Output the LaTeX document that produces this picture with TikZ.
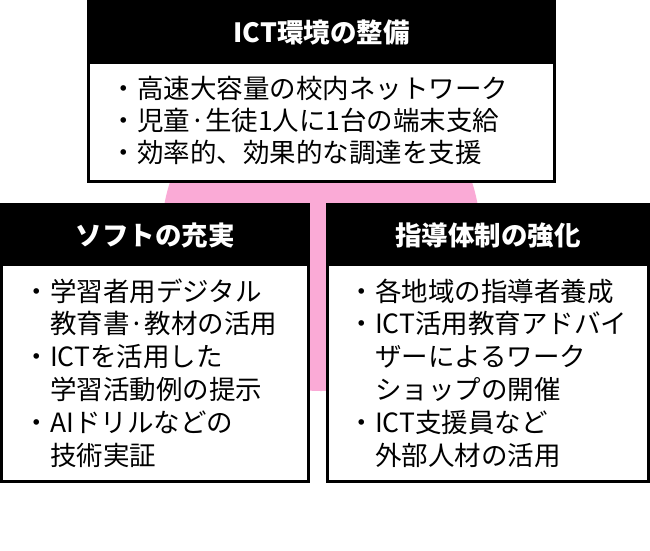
\documentclass[tikz,border=0pt]{standalone}
\usepackage{fontspec}
\setmainfont{Noto Sans CJK JP}
\definecolor{pk}{RGB}{250,170,214}
\begin{document}
\begin{tikzpicture}[x=1pt,y=-1pt,
  frame/.style={draw=black, line width=3pt, fill=white, inner sep=0pt, outer sep=0pt, anchor=north west},
  head/.style={fill=black, inner sep=0pt, outer sep=0pt, anchor=north west},
  title/.style={text=white, font=\bfseries\fontsize{26.5}{30}\selectfont, anchor=base, inner sep=0pt},
  body/.style={font=\fontsize{26.5}{32.8}\selectfont, align=left, anchor=base west, inner sep=0pt},
  topbodyst/.style={body, font=\fontsize{26.5}{32}\selectfont}]
\useasboundingbox[fill=white] (0,0) rectangle (650,550);
\fill[pk] (321,232) circle[radius=159];
% top box
\node[frame, minimum width=466pt, minimum height=183pt] (topbox) at (88.5,-1.5) {};
\node[head, minimum width=469pt, minimum height=67pt] (tophead) at (87,-3) {};
\node[title] (toptitle) at (321.5,42) {ICT環境の整備};
\node[topbodyst] (topbody) at (110.5,162) {・高速大容量の校内ネットワーク\\・児童·生徒1人に1台の端末支給\\・効率的、効果的な調達を支援};
% left box
\node[frame, minimum width=307pt, minimum height=277pt] (leftbox) at (1.5,204.5) {};
\node[head, minimum width=310pt, minimum height=63pt] (lefthead) at (0,203) {};
\node[title] (lefttitle) at (155,245) {ソフトの充実};
\node[body] (leftbody) at (23.5,465) {・学習者用デジタル\\\phantom{・}教育書·教材の活用\\・ICTを活用した\\\phantom{・}学習活動例の提示\\・AIドリルなどの\\\phantom{・}技術実証};
% right box
\node[frame, minimum width=321pt, minimum height=277pt] (rightbox) at (327.5,204.5) {};
\node[head, minimum width=324pt, minimum height=63pt] (righthead) at (326,203) {};
\node[title] (righttitle) at (488,245) {指導体制の強化};
\node[body] (rightbody) at (348.5,465) {・各地域の指導者養成\\・ICT活用教育アドバイ\\\phantom{・}ザーによるワーク\\\phantom{・}ショップの開催\\・ICT支援員など\\\phantom{・}外部人材の活用};
\end{tikzpicture}
\end{document}
